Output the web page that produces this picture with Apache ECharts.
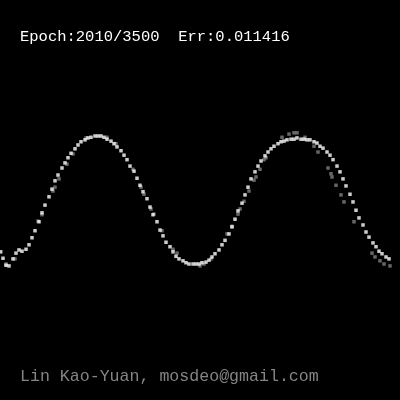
<!DOCTYPE html>
<html><head><meta charset="utf-8">
<style>html,body{margin:0;padding:0;background:#000;}#c{width:400px;height:400px;}</style>
<script src="https://cdn.jsdelivr.net/npm/echarts@6/dist/echarts.min.js"></script>
</head><body><div id="c"></div>
<script>
// x in units of pi (0..4), y = network output / training target
const fitX = [0.007,0.03,0.06,0.09,0.13,0.16,0.19,0.22,0.26,0.29,0.32,0.35,0.39,0.42,0.45,0.49,0.52,0.55,0.58,0.62,0.65,0.68,0.71,0.75,0.78,0.81,0.85,0.88,0.91,0.95,0.98,1.01,1.04,1.07,1.11,1.14,1.17,1.21,1.24,1.27,1.30,1.34,1.37,1.40,1.43,1.47,1.50,1.53,1.57,1.60,1.63,1.66,1.70,1.73,1.76,1.79,1.83,1.86,1.89,1.93,1.96,1.99,2.02,2.06,2.09,2.12,2.15,2.19,2.22,2.25,2.29,2.32,2.35,2.38,2.42,2.45,2.48,2.51,2.55,2.58,2.61,2.65,2.68,2.71,2.74,2.78,2.81,2.84,2.87,2.91,2.94,2.97,3.01,3.04,3.07,3.10,3.14,3.17,3.20,3.23,3.27,3.30,3.33,3.37,3.40,3.43,3.46,3.50,3.53,3.56,3.59,3.63,3.66,3.69,3.73,3.76,3.79,3.82,3.86,3.89];
const fitY = [-0.81,-0.91,-1.02,-1.03,-0.92,-0.83,-0.78,-0.80,-0.77,-0.70,-0.59,-0.48,-0.34,-0.20,-0.08,0.05,0.17,0.30,0.39,0.50,0.58,0.66,0.73,0.80,0.86,0.91,0.94,0.97,0.98,1.00,1.00,1.00,0.98,0.95,0.92,0.88,0.83,0.77,0.70,0.63,0.53,0.45,0.34,0.23,0.13,0.02,-0.11,-0.23,-0.34,-0.47,-0.56,-0.66,-0.73,-0.81,-0.88,-0.92,-0.95,-0.98,-1.00,-1.00,-1.00,-1.00,-0.98,-0.97,-0.94,-0.89,-0.84,-0.78,-0.70,-0.63,-0.53,-0.42,-0.30,-0.17,-0.05,0.08,0.20,0.33,0.44,0.53,0.61,0.69,0.75,0.80,0.84,0.88,0.91,0.92,0.94,0.95,0.95,0.97,0.95,0.95,0.94,0.94,0.91,0.89,0.84,0.81,0.75,0.70,0.63,0.53,0.44,0.33,0.22,0.09,-0.03,-0.16,-0.28,-0.39,-0.50,-0.58,-0.67,-0.73,-0.80,-0.84,-0.89,-0.92];
const sampleX = [0.06,0.15,0.38,0.42,0.53,0.55,0.59,0.67,0.73,0.86,1.07,1.16,1.33,1.41,1.44,1.51,1.54,1.62,1.73,1.77,2.00,2.04,2.11,2.27,2.32,2.38,2.40,2.44,2.49,2.54,2.56,2.60,2.64,2.66,2.82,2.89,2.94,2.97,3.05,3.14,3.18,3.28,3.31,3.32,3.36,3.41,3.44,3.54,3.72,3.75,3.80,3.84,3.90];
const sampleY = [-1.00,-0.92,-0.33,-0.23,0.14,0.20,0.33,0.56,0.72,0.97,0.98,0.88,0.48,0.20,0.09,-0.14,-0.22,-0.48,-0.77,-0.83,-1.03,-1.00,-0.92,-0.53,-0.41,-0.22,-0.14,-0.02,0.14,0.31,0.36,0.48,0.63,0.66,0.98,1.03,1.05,1.05,0.98,0.84,0.75,0.50,0.41,0.36,0.23,0.08,-0.03,-0.34,-0.83,-0.89,-0.95,-1.00,-1.03];
const epoch = 2010, totalEpochs = 3500, err = '0.011416';
const author = 'Lin Kao-Yuan, mosdeo@gmail.com';

const chart = echarts.init(document.getElementById('c'), null, {renderer:'canvas'});
chart.setOption({
  backgroundColor:'#000',
  animation:false,
  title:[
    {text:'Epoch:'+epoch+'/'+totalEpochs+'  Err:'+err, left:20, top:28.5, padding:0,
     textStyle:{color:'#fff', fontFamily:'Liberation Mono', fontSize:15.5, fontWeight:'normal'}},
    {text:author, left:20, top:368.5, padding:0,
     textStyle:{color:'#858585', fontFamily:'Liberation Mono', fontSize:16.6, fontWeight:'normal'}}
  ],
  grid:{left:0,right:0,top:0,bottom:0,containLabel:false},
  xAxis:{type:'value',min:0,max:4,show:false,splitLine:{show:false}},
  yAxis:{type:'value',min:-3.125,max:3.125,show:false,splitLine:{show:false}},
  series:[
    {type:'scatter',symbol:'rect',symbolSize:3.5,itemStyle:{color:'#808080'},
     data:sampleX.map((x,i)=>[x,sampleY[i]])},
    {type:'scatter',symbol:'rect',symbolSize:3.5,itemStyle:{color:'#fff'},
     data:fitX.map((x,i)=>[x,fitY[i]])}
  ]
});
</script></body></html>
